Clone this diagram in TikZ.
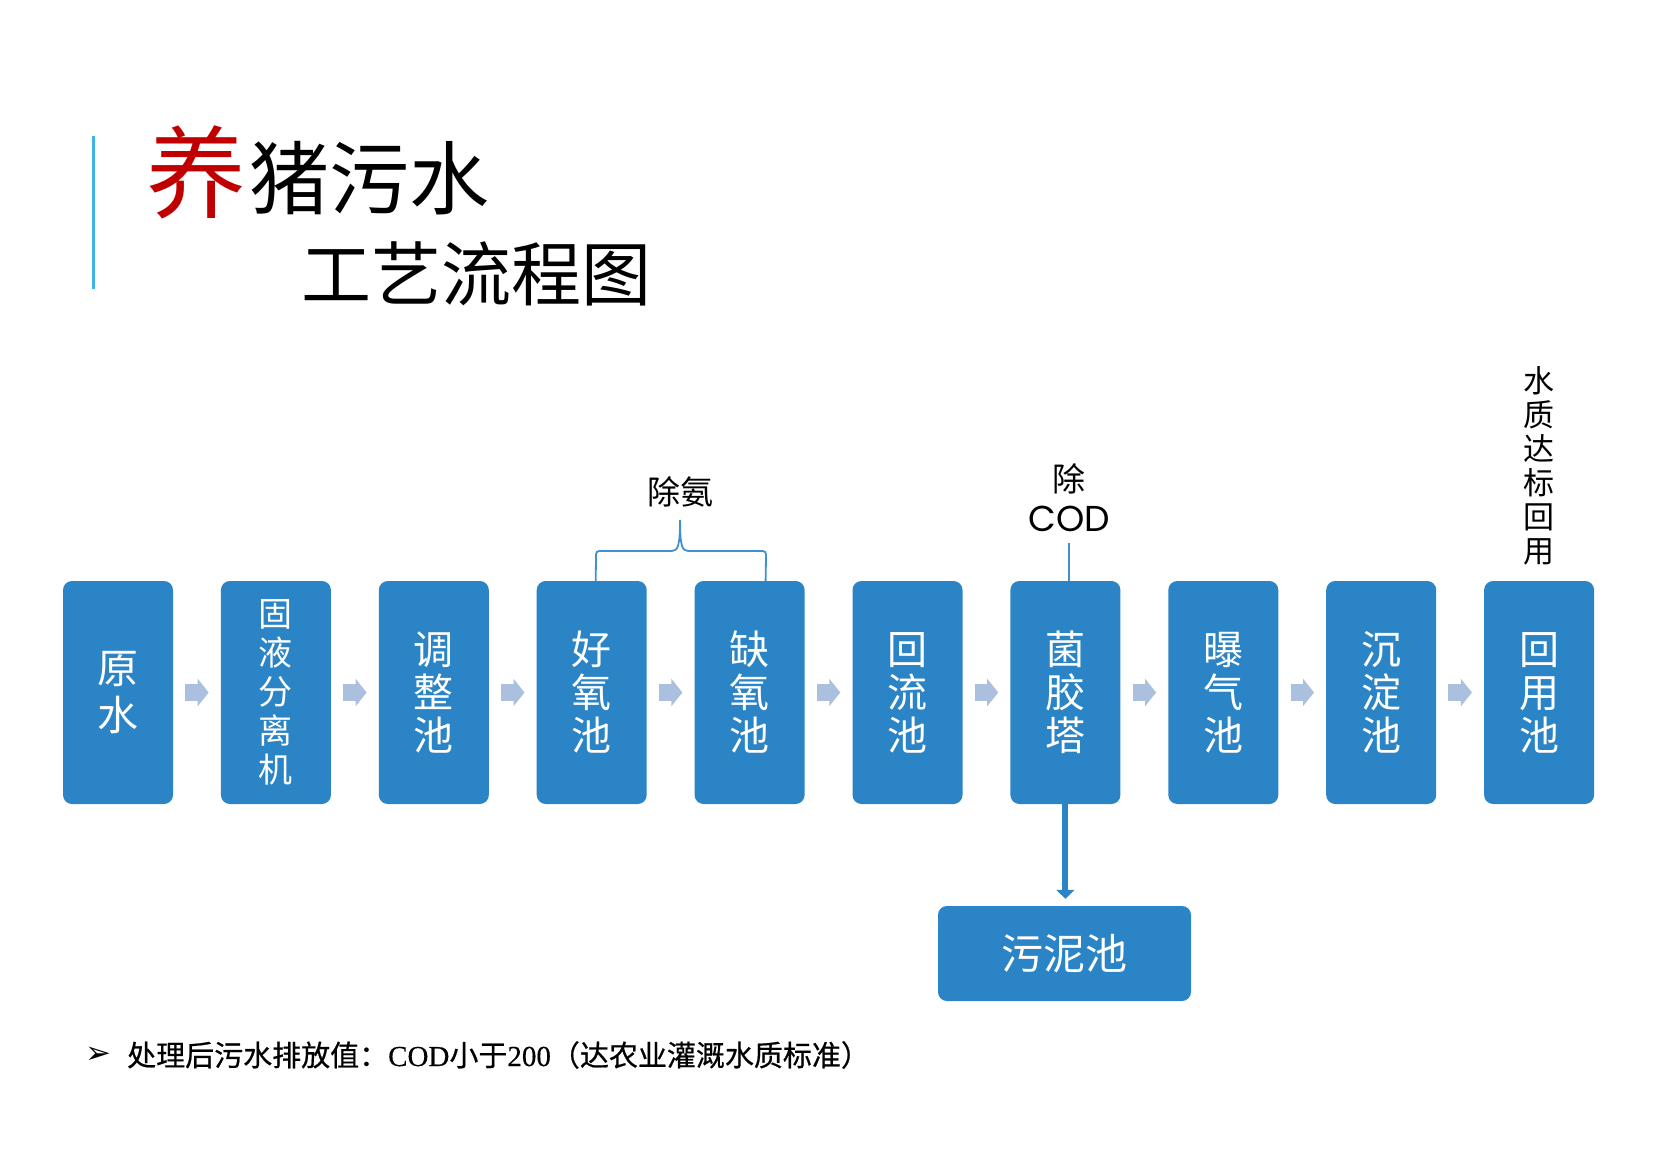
\documentclass[tikz,border=0pt]{standalone}
\usepackage{fontspec}
\setmainfont{Noto Sans CJK SC}
\newfontfamily\dejavu{DejaVu Sans}
\newfontfamily\poppins{Poppins}
\newfontfamily\notecjk[FakeBold=0.6]{Noto Sans CJK SC}
\newfontfamily\noteserif[FakeBold=0.4]{Liberation Serif}
\usetikzlibrary{arrows.meta,calc}
\definecolor{boxblue}{RGB}{42,132,198}
\definecolor{arrowblue}{RGB}{170,192,222}
\definecolor{bracecol}{RGB}{62,146,210}
\definecolor{titleline}{RGB}{64,180,230}
\definecolor{titlered}{RGB}{192,0,0}
\tikzset{
  procbox/.style={fill=boxblue, rounded corners=9pt, minimum width=110pt, minimum height=223pt,
    inner sep=0pt, text=white, align=center, font=\fontsize{40}{43}\selectfont},
  mudbox/.style={fill=boxblue, rounded corners=9pt, minimum width=253pt, minimum height=95pt,
    inner sep=0pt, text=white, font=\fontsize{42}{46}\selectfont},
  blockarrow/.style={draw=arrowblue, line width=17pt, -{Triangle[length=11pt,width=27pt]},
    shorten <=12pt, shorten >=12pt},
  bracestyle/.style={draw=bracecol, line width=1.8pt},
  sludgearrow/.style={draw=boxblue, line width=6pt, -{Triangle[length=9pt,width=18pt]}, shorten >=7pt},
  sidelabel/.style={inner sep=0pt, align=center, text=black, font=\fontsize{33}{38}\selectfont},
}
\begin{document}
\begin{tikzpicture}[x=1pt,y=-1pt]
\useasboundingbox[fill=white] (0,0) rectangle (1660,1150);

% title
\draw[titleline, line width=3pt] (93,136) -- (93,289);
\node[inner sep=0pt, text=titlered, font=\fontsize{100}{100}\selectfont] (t1) at (196,172) {养};
\node[inner sep=0pt, anchor=west, font=\fontsize{80}{80}\selectfont] (t2) at (249,178) {猪污水};
\node[inner sep=0pt, font=\fontsize{70}{70}\selectfont] (t3) at (476,274) {工艺流程图};

% process boxes
\node[procbox, font=\fontsize{41}{47}\selectfont] (b1) at (118,692.5) {原\\水};
\node[procbox, font=\fontsize{34}{39}\selectfont] (b2) at (275.9,692.5) {固\\液\\分\\离\\机};
\node[procbox] (b3) at (433.8,692.5) {调\\整\\池};
\node[procbox] (b4) at (591.7,692.5) {好\\氧\\池};
\node[procbox] (b5) at (749.6,692.5) {缺\\氧\\池};
\node[procbox] (b6) at (907.5,692.5) {回\\流\\池};
\node[procbox] (b7) at (1065.4,692.5) {菌\\胶\\塔};
\node[procbox] (b8) at (1223.3,692.5) {曝\\气\\池};
\node[procbox] (b9) at (1381.2,692.5) {沉\\淀\\池};
\node[procbox] (b10) at (1539.1,692.5) {回\\用\\池};

\foreach \a/\b in {b1/b2,b2/b3,b3/b4,b4/b5,b5/b6,b6/b7,b7/b8,b8/b9,b9/b10}
  \draw[blockarrow] (\a.east) -- (\b.west);

% sludge tank
\node[mudbox] (mud) at (1064.5,953.5) {污泥池};
\draw[sludgearrow] (b7.south) -- (b7.south |- mud.north);

% brace and label
\node[sidelabel] (nh) at (680,492) {除氨};
\coordinate (brL) at ([xshift=4pt]b4.north);
\coordinate (brR) at ([xshift=16pt]b5.north);
\coordinate (brT) at (680,520);
\draw[bracestyle] (brL) -- (596,558) .. controls (596,551) .. (603,551) -- (672,551)
  .. controls (678,551) and (680,545) .. (brT)
  .. controls (680,545) and (682,551) .. (688,551) -- (759,551)
  .. controls (766,551) .. (766,558) -- (brR);

% COD label
\node[sidelabel] (codA) at (1069,479) {除};
\node[inner sep=0pt, anchor=base, font=\poppins\fontsize{36}{40}\selectfont] (codB) at (1069,531) {COD};
\coordinate (codtop) at (1069,543);
\draw[bracestyle] (codtop) -- (codtop |- b7.north);

% reuse label
\node[sidelabel, font=\fontsize{31}{34}\selectfont] (reuse) at (1539,466) {水\\质\\达\\标\\回\\用};

% bottom note
\node[inner sep=0pt, font=\dejavu\fontsize{31}{31}\selectfont] (bul) at (98,1055) {➢};
\node[inner sep=0pt, anchor=base west, font=\notecjk\fontsize{29}{31}\selectfont] (note) at (127,1066)
  {处理后污水排放值：{\noteserif COD}小于{\noteserif 200}（达农业灌溉水质标准）};
\end{tikzpicture}
\end{document}
